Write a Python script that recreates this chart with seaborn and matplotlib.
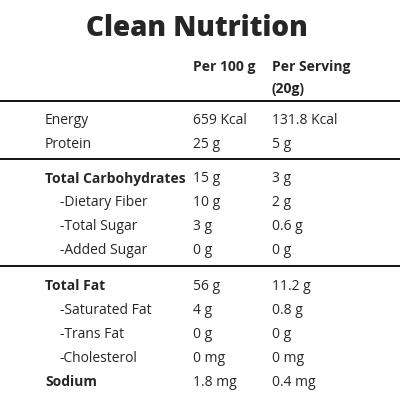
import matplotlib
matplotlib.use("Agg")
import matplotlib.pyplot as plt
import seaborn as sns

sns.set_theme(style="white")
plt.rcParams['font.family'] = ['Open Sans', 'DejaVu Sans']

title = "Clean Nutrition"
headers = ["Per 100 g", "Per Serving", "(20g)"]
nutrients = ["Energy", "Protein", "Total Carbohydrates", "-Dietary Fiber", "-Total Sugar",
             "-Added Sugar", "Total Fat", "-Saturated Fat", "-Trans Fat", "-Cholesterol", "Sodium"]
per100 = ["659 Kcal", "25 g", "15 g", "10 g", "3 g", "0 g", "56 g", "4 g", "0 g", "0 mg", "1.8 mg"]
perserv = ["131.8 Kcal", "5 g", "3 g", "2 g", "0.6 g", "0 g", "11.2 g", "0.8 g", "0 g", "0 mg", "0.4 mg"]
bold = [False, False, True, False, False, False, True, False, False, False, True]
row_y = [120, 144, 179, 203, 227, 251, 286, 310, 334, 358, 382]
sep_y = [101, 159, 266]

fig = plt.figure(figsize=(4, 4), dpi=100)
ax = fig.add_axes([0, 0, 1, 1])
ax.set_xlim(0, 400)
ax.set_ylim(400, 0)
ax.axis("off")

ax.text(197, 28, title, ha="center", va="center", fontsize=20, fontweight="heavy")
ax.text(193, 67, headers[0], ha="left", va="center", fontsize=10, fontweight="bold")
ax.text(272, 67, headers[1], ha="left", va="center", fontsize=10, fontweight="bold")
ax.text(272, 89, headers[2], ha="left", va="center", fontsize=10, fontweight="bold")

for y in sep_y:
    ax.plot([0, 400], [y, y], color="black", lw=1.3)

for n, a, b, bo, y in zip(nutrients, per100, perserv, bold, row_y):
    x = 60 if n.startswith("-") else 45
    ax.text(x, y, n, ha="left", va="center", fontsize=10,
            fontweight="bold" if bo else "normal")
    ax.text(193, y, a, ha="left", va="center", fontsize=10)
    ax.text(272, y, b, ha="left", va="center", fontsize=10)

fig.savefig("out.png", dpi=100, facecolor="white")
